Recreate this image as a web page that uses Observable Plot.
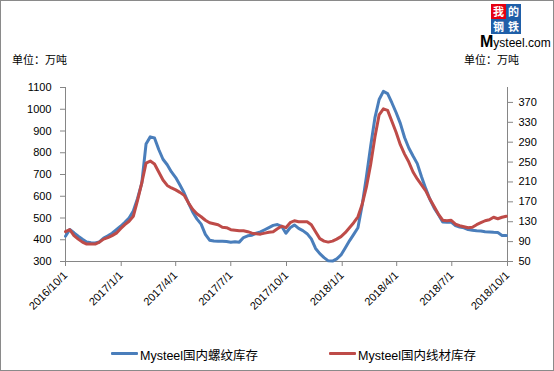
<!DOCTYPE html>
<html>
<head>
<meta charset="utf-8">
<script src="https://cdn.jsdelivr.net/npm/d3@7"></script>
<script src="https://cdn.jsdelivr.net/npm/@observablehq/plot@0.6"></script>
<style>
  html, body { margin: 0; padding: 0; background: #fff; }
  #wrap { position: relative; width: 554px; height: 371px; overflow: hidden; background: #fff;
          font-family: "Liberation Sans", "Noto Sans CJK SC", Arial, sans-serif; }
  #frame { position: absolute; left: 0; top: 0; width: 552px; height: 369px; border: 1px solid #8a8a8a; pointer-events: none; }
  #chart { position: absolute; left: 0; top: 0; }
  .unit { position: absolute; top: 52px; font-size: 11px; line-height: 14px; color: #000; font-family: "Noto Sans CJK SC", sans-serif; }
  .cell { position: absolute; width: 15px; height: 15px; background: #1f5fa8; }
  .ch { position: absolute; width: 15px; height: 13px; color: #fff; font-size: 11px; line-height: 13px; text-align: center;
        font-family: "Noto Sans CJK SC", serif; font-weight: 700; }
  #mys { position: absolute; left: 480px; top: 34px; height: 15px; line-height: 15px; font-size: 12px; font-weight: 400; color: #000; white-space: nowrap; }
  #mys b { font-size: 16px; font-weight: 700; }
  .leg { position: absolute; top: 345px; font-size: 12.5px; color: #000; font-family: "Liberation Sans", "Noto Sans CJK SC", sans-serif; white-space: nowrap; }
  .sw { position: absolute; top: 352px; height: 3px; width: 27px; border-radius: 1px; }
</style>
</head>
<body>
<div id="wrap">
  <div id="chart"></div>
  <div class="unit" style="left:12px">单位：万吨</div>
  <div class="unit" style="left:464px">单位：万吨</div>
  <div class="cell" style="left:491px;top:4px;background:#e60012"></div>
  <div class="cell" style="left:506px;top:4px"></div>
  <div class="cell" style="left:491px;top:19px"></div>
  <div class="cell" style="left:506px;top:19px"></div>
  <div class="ch" style="left:491px;top:5px">我</div>
  <div class="ch" style="left:506px;top:5px">的</div>
  <div class="ch" style="left:491px;top:20px">钢</div>
  <div class="ch" style="left:506px;top:20px">铁</div>
  <div id="mys"><b>M</b>ysteel.com</div>
  <div class="sw" style="left:111px;background:#4A7EBB"></div>
  <div class="leg" style="left:140px">Mysteel国内螺纹库存</div>
  <div class="sw" style="left:329px;background:#BE4B48"></div>
  <div class="leg" style="left:358px">Mysteel国内线材库存</div>
  <div id="frame"></div>
</div>
<script>
// Weekly data, first observation 2016-10-01
const startDate = "2016-10-01";
// Mysteel domestic rebar inventory (left axis, 万吨)
const rebar = [
  416, 447, 432, 416, 402, 390, 386, 385, 390, 408,
  418, 430, 446, 462, 480, 500, 532, 590, 660, 840,
  873, 868, 815, 770, 745, 712, 686, 652, 615, 570,
  528, 496, 472, 425, 398, 394, 393, 393, 392, 389,
  391, 389, 410, 418, 421, 430, 436, 446, 456, 466,
  470, 462, 430, 455, 468, 452, 442, 428, 404, 360,
  336, 318, 303, 302, 312, 330, 362, 395, 425, 455,
  560, 690, 830, 960, 1045, 1082, 1072, 1030, 985, 935,
  870, 822, 785, 750, 690, 635, 585, 545, 515, 482,
  481, 481, 465, 458, 455, 447, 444, 441, 440, 437,
  436, 434, 433, 420, 419
];
// Mysteel domestic wire rod inventory (right axis, 万吨)
const wire = [
  110, 114, 102, 95, 89, 85, 85, 85, 89, 95,
  98, 102, 107, 116, 124, 131, 141, 173, 208, 248,
  252, 246, 230, 214, 203, 198, 194, 189, 183, 168,
  155, 146, 140, 133, 128, 126, 124, 119, 118, 114,
  113, 112, 112, 110, 107, 106, 105, 107, 109, 110,
  116, 121, 118, 128, 132, 130, 130, 130, 124, 110,
  96, 91, 89, 91, 95, 100, 108, 118, 128, 140,
  165, 200, 245, 300, 345, 357, 354, 332, 310, 285,
  266, 250, 230, 216, 204, 192, 175, 160, 145, 133,
  132, 133, 125, 122, 120, 118, 119, 124, 128, 132,
  134, 139, 136, 139, 141
];
const xTicks = ["2016-10-01","2017-01-01","2017-04-01","2017-07-01","2017-10-01","2018-01-01","2018-04-01","2018-07-01","2018-10-01"];
const leftTicks = [300, 400, 500, 600, 700, 800, 900, 1000, 1100];
const rightTicks = [50, 90, 130, 170, 210, 250, 290, 330, 370];
const leftDomain = [300, 1100];
const rightDomain = [50, 400];

const k = (rightDomain[1] - rightDomain[0]) / (leftDomain[1] - leftDomain[0]);
const toLeft = r => leftDomain[0] + (r - rightDomain[0]) / k;
const toRight = l => rightDomain[0] + (l - leftDomain[0]) * k;

const start = new Date(startDate + "T00:00:00Z");
const data = rebar.map((v, i) => ({date: d3.utcDay.offset(start, 7 * i), rebar: v, wire: wire[i]}));
const xDates = xTicks.map(s => new Date(s + "T00:00:00Z"));
const xDomain = [xDates[0], xDates[xDates.length - 1]];
const axisColor = "#868686";

const chart = Plot.plot({
  width: 554,
  height: 371,
  marginLeft: 65,
  marginRight: 47,
  marginTop: 87,
  marginBottom: 110,
  style: {fontFamily: "'Liberation Sans', Arial, sans-serif", fontSize: "11px", color: "#000", background: "transparent", overflow: "visible"},
  x: {type: "utc", domain: xDomain},
  y: {domain: leftDomain},
  marks: [
    Plot.ruleY([leftDomain[0]], {stroke: axisColor}),
    Plot.ruleX([xDomain[0]], {y1: leftDomain[0], y2: leftDomain[1], stroke: axisColor}),
    Plot.ruleX([xDomain[1]], {y1: leftDomain[0], y2: leftDomain[1], stroke: axisColor}),
    Plot.axisY({ticks: leftTicks, tickFormat: d => String(d), tickSize: 5, tickPadding: 9, stroke: axisColor, fill: "#000", label: null}),
    Plot.axisY({anchor: "right", ticks: rightTicks.map(toLeft), tickFormat: v => String(Math.round(toRight(v))), tickSize: 5, tickPadding: 6, stroke: axisColor, fill: "#000", label: null}),
    Plot.axisX({ticks: xDates, tickFormat: d3.utcFormat("%Y/%-m/%-d"), tickRotate: -45, tickSize: 5, tickPadding: 7, stroke: axisColor, fill: "#000", label: null}),
    Plot.line(data, {x: "date", y: "rebar", stroke: "#4A7EBB", strokeWidth: 3, strokeLinejoin: "round", strokeLinecap: "round"}),
    Plot.line(data, {x: "date", y: d => toLeft(d.wire), stroke: "#BE4B48", strokeWidth: 3, strokeLinejoin: "round", strokeLinecap: "round"})
  ]
});
document.getElementById("chart").appendChild(chart);
</script>
</body>
</html>
